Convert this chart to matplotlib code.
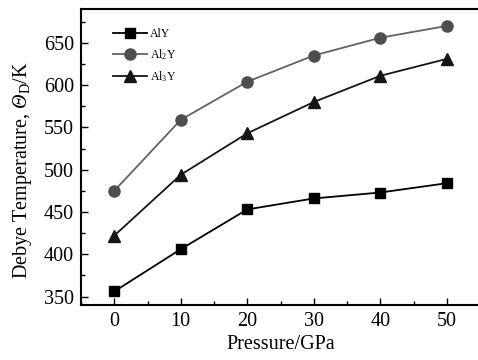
import numpy as np
import matplotlib
matplotlib.use('Agg')
from matplotlib import pyplot as plt

# data
pressure = [0, 10, 20, 30, 40, 50]
aly = [356, 406, 453, 466, 473, 484]
al2y = [475, 559, 604, 635, 656, 670]
al3y = [422, 494, 543, 580, 611, 631]
labels = ['AlY', r'Al$_2$Y', r'Al$_3$Y']

plt.rcParams['font.family'] = 'Liberation Serif'
plt.rcParams['mathtext.fontset'] = 'custom'
plt.rcParams['mathtext.rm'] = 'Liberation Serif'
plt.rcParams['mathtext.it'] = 'Liberation Serif:italic'
# mathtext keeps capital greek upright in \mathit, so use sf slot for italic Theta
plt.rcParams['mathtext.sf'] = 'Liberation Serif:italic'

fig = plt.figure(figsize=(4.78, 3.6), dpi=100)
ax = fig.add_axes([81 / 478, 55 / 360, 399 / 478, 296 / 360])

ax.plot(pressure, aly, '-s', color='black', lw=1.3, ms=7, label=labels[0])
ax.plot(pressure, al2y, '-o', color='#626262', mfc='#4e4e4e', mec='#4e4e4e',
        lw=1.3, ms=8, label=labels[1])
ax.plot(pressure, al3y, '-^', color='#151515', lw=1.3, ms=8, label=labels[2])

ax.set_xlim(-5, 55)
ax.set_ylim(340, 690)
ax.set_xticks(pressure)
ax.set_xticks(np.arange(-5, 56, 5), minor=True)
ax.set_yticks(np.arange(350, 651, 50))
ax.set_yticks(np.arange(350, 690, 25), minor=True)
ax.tick_params(which='both', direction='in', labelsize=14.5, width=1)
ax.tick_params(which='major', length=5, pad=5)
ax.tick_params(which='minor', length=3)
for s in ax.spines.values():
    s.set_linewidth(1.5)

ax.set_xlabel('Pressure/GPa', fontsize=14.5, labelpad=3)
ax.set_ylabel(r'Debye Temperature, $\mathsf{Θ}_{\rm D}$/K', fontsize=14.5)
ax.yaxis.set_label_coords(-0.118, 0.456)

ax.legend(loc='upper left', bbox_to_anchor=(0.08, 0.935), frameon=False,
          fontsize=8.5, handlelength=2.9, handletextpad=0.25, labelspacing=0.6,
          borderaxespad=0, borderpad=0)

fig.savefig('out.png', dpi=100)
